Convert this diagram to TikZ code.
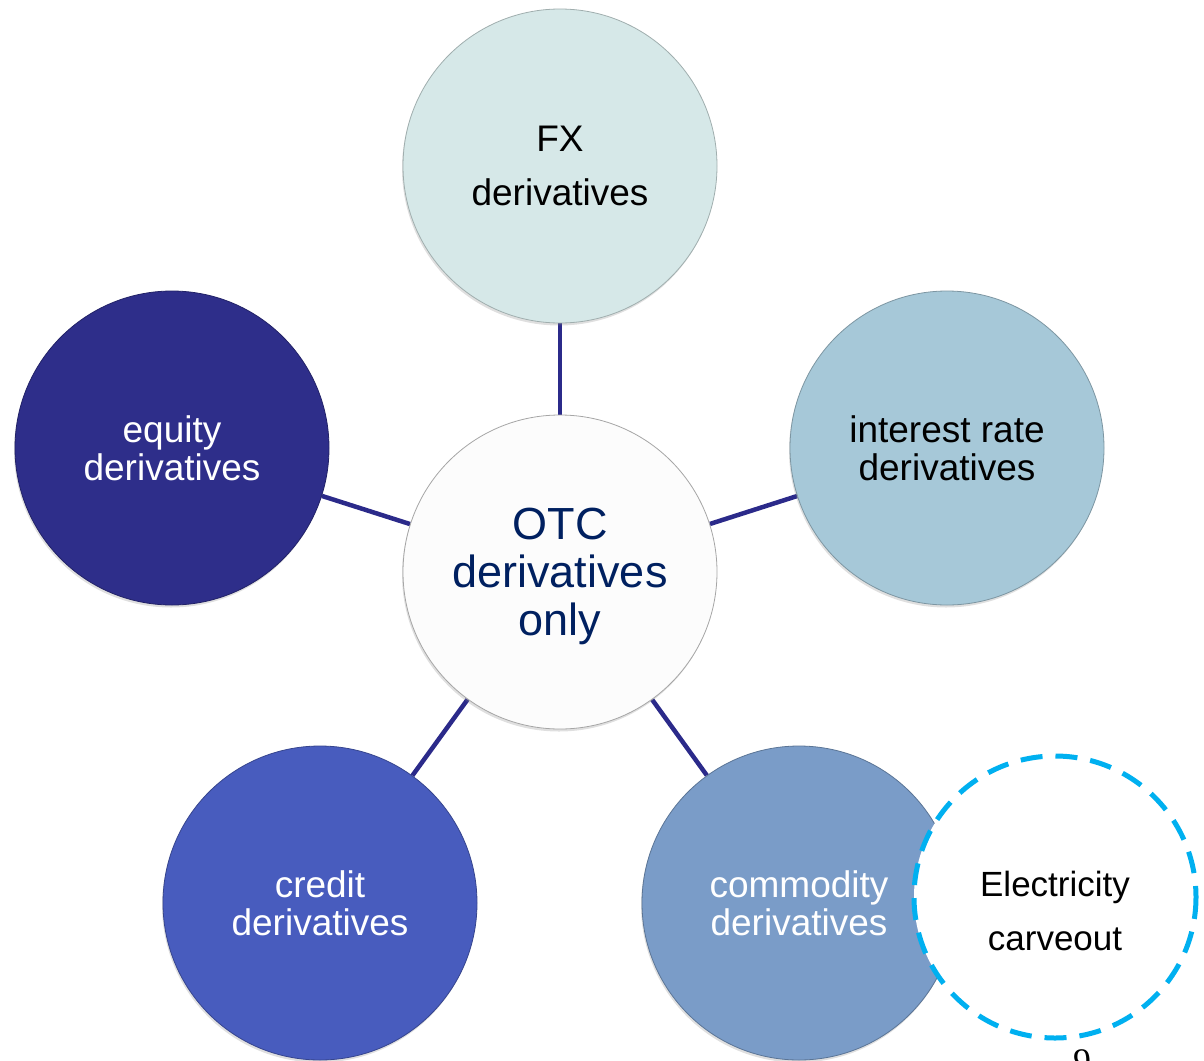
\documentclass[tikz,border=0pt]{standalone}
\usepackage{fontspec}
\setmainfont{Liberation Sans}
\newfontfamily\pagefont{Liberation Serif}
\usepackage{tikz}
\usetikzlibrary{positioning,backgrounds,shadows}

\definecolor{hubfill}{RGB}{252,252,252}
\definecolor{hubtext}{RGB}{0,32,96}
\definecolor{fxfill}{RGB}{214,232,232}
\definecolor{ratefill}{RGB}{166,200,216}
\definecolor{eqfill}{RGB}{46,46,138}
\definecolor{credfill}{RGB}{72,92,190}
\definecolor{comfill}{RGB}{122,156,200}
\definecolor{spoke}{RGB}{43,42,138}
\definecolor{carve}{RGB}{0,176,240}

\tikzset{
  bubble/.style={circle, minimum size=314pt, inner sep=0pt, align=center,
    fill=#1, draw=#1!75!black, line width=0.8pt,
    drop shadow={shadow xshift=-1pt, shadow yshift=-2.5pt, opacity=0.25}},
  spokeline/.style={draw=spoke, line width=4.5pt},
  big/.style={font=\fontsize{45}{48}\selectfont},
  mid/.style={font=\fontsize{37}{#1}\selectfont},
  carveline/.style={draw=carve, fill=white, line width=5pt, dash pattern=on 22pt off 13pt},
}

\begin{document}
\begin{tikzpicture}[x=1pt,y=-1pt]
    \useasboundingbox (0,0) rectangle (1204,1060);
    \clip (0,0) rectangle (1204,1060);

    % Hub
    \node [bubble=hubfill, draw=black!35, text=hubtext, big] (otc) at (560,572) {\\[-8pt]OTC\\derivatives\\only};

    % Outer ring
    \node [bubble=fxfill, text=black, mid=54] (fx) at (560,166) {FX\\derivatives};
    \node [bubble=ratefill, text=black, mid=38] (rates) at (947,448) {interest rate\\derivatives};
    \node [bubble=eqfill, text=white, mid=38] (equity) at (172,448) {equity\\derivatives};
    \node [bubble=credfill, text=white, mid=38] (credit) at (320,903) {credit\\derivatives};
    \node [bubble=comfill, text=white, mid=38] (commod) at (799,903) {commodity\\derivatives};

    % Spokes behind the circles
    \begin{scope}[on background layer]
        \foreach \n in {fx,rates,commod,credit,equity}
            \draw [spokeline] (otc) -- (\n);
    \end{scope}

    % Carve-out on top of commodities
    \coordinate (elecmid) at (1055,897);
    \draw [carveline] (elecmid) circle (141);
    \node [align=center, font=\fontsize{35}{54}\selectfont] (elec) at (1055,911) {Electricity\\carveout};

    % Page number, cut off at the bottom
    \node [anchor=north, inner sep=0pt, font=\pagefont\fontsize{36}{36}\selectfont] (pageno) at (1082,1049) {9};
\end{tikzpicture}
\end{document}
